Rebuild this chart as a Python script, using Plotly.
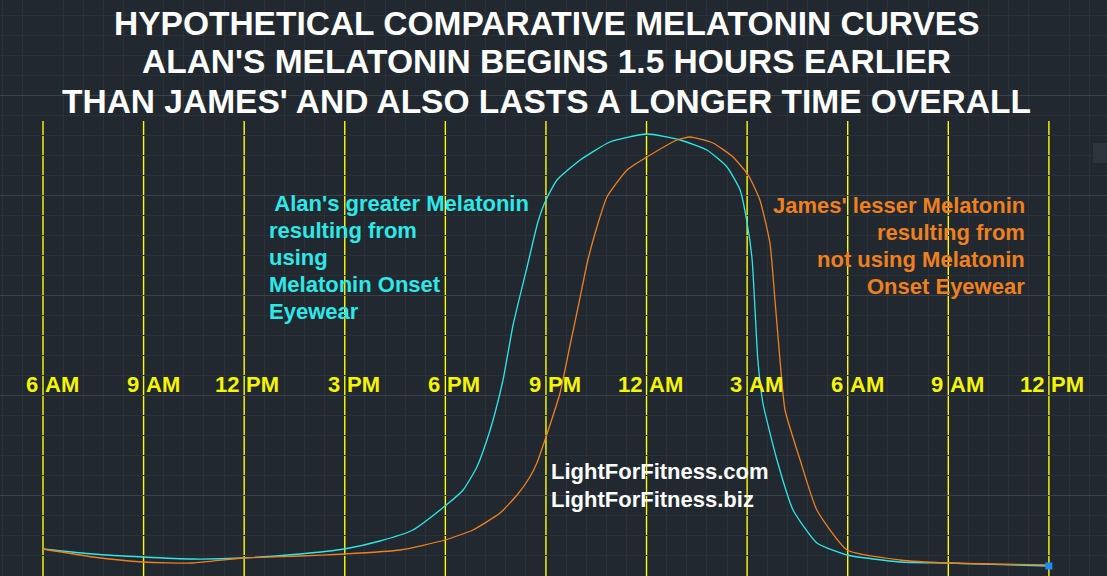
import plotly.graph_objects as go

# clock hours counted from midnight of day one (6 = 6 AM, 36 = noon next day)
tick_hours = [6, 9, 12, 15, 18, 21, 24, 27, 30, 33, 36]
tick_labels = ["6 AM", "9 AM", "12 PM", "3 PM", "6 PM", "9 PM",
               "12 AM", "3 AM", "6 AM", "9 AM", "12 PM"]

# Alan - relative melatonin level (uses the onset eyewear)
alan_hours = [6.0, 7.49, 8.98, 10.47, 11.96, 13.66, 14.98, 16.05, 17.03, 17.99,
              18.53, 18.94, 19.24, 19.48, 19.72, 20.02, 20.43, 20.76, 21.0, 21.33,
              22.02, 22.91, 24.01, 25.0, 25.8, 26.4, 26.79, 27.0, 27.15, 27.32,
              27.47, 27.89, 28.37, 29.08, 29.98, 31.56, 32.99, 36.0]
alan_level = [6.5, 5.25, 4.5, 4.0, 4.25, 5.25, 6.5, 8.5, 11.25, 17.25,
              21.25, 27.0, 33.75, 40.5, 48.75, 62.5, 76.75, 88.25, 93.75, 98.75,
              103.75, 108.25, 110.25, 108.75, 106.25, 102.0, 96.25, 88.0, 78.75, 53.75,
              43.0, 28.75, 16.25, 8.0, 5.0, 3.25, 3.0, 2.25]

# James - relative melatonin level (no eyewear)
james_hours = [6.0, 7.49, 8.98, 10.47, 11.96, 13.66, 14.98, 16.65, 17.99, 18.82,
               19.63, 20.14, 20.52, 20.73, 20.97, 21.42, 21.72, 21.99, 22.25, 22.52,
               22.82, 23.42, 24.01, 24.91, 25.3, 25.98, 26.58, 27.03, 27.38, 27.68,
               27.83, 27.98, 28.13, 28.58, 29.08, 29.98, 31.56, 32.99, 36.0]
james_level = [6.5, 4.5, 3.25, 3.0, 4.25, 4.75, 5.25, 6.25, 8.75, 11.25,
               15.5, 20.0, 24.5, 28.0, 33.75, 45.5, 57.5, 68.25, 78.75, 87.0,
               94.5, 101.25, 104.5, 108.75, 109.5, 108.0, 104.5, 100.0, 93.75, 83.0,
               68.75, 53.75, 41.25, 28.75, 16.25, 6.25, 3.75, 3.0, 2.5]

title_lines = ["HYPOTHETICAL COMPARATIVE MELATONIN CURVES",
               "ALAN'S MELATONIN BEGINS 1.5 HOURS EARLIER",
               "THAN JAMES' AND ALSO LASTS A LONGER TIME OVERALL"]
alan_note = [" Alan's greater Melatonin", "resulting from", "using",
             "Melatonin Onset", "Eyewear"]
james_note = ["James' lesser Melatonin", "resulting from",
              "not using Melatonin", "Onset Eyewear"]
site_lines = ["LightForFitness.com", "LightForFitness.biz"]

W, H = 1107, 576
BG = "#212830"
YELLOW = "#ffff00"
CYAN = "#2ee8e8"
ORANGE = "#ee8020"
FONT = "Liberation Sans, Arial, sans-serif"


def py(pix):
    # pixel row -> paper fraction
    return 1 - pix / H


fig = go.Figure()

# yellow hour lines (under the curves, over the grid)
for h in tick_hours:
    fig.add_shape(type="line", xref="x", yref="paper", x0=h, x1=h,
                  y0=0, y1=py(121), line=dict(color=YELLOW, width=1.4), layer="between")

fig.add_trace(go.Scatter(x=alan_hours, y=alan_level, mode="lines",
                         line=dict(color=CYAN, width=1.3, shape="spline", smoothing=0.5),
                         hoverinfo="skip"))
fig.add_trace(go.Scatter(x=james_hours, y=james_level, mode="lines",
                         line=dict(color=ORANGE, width=1.3, shape="spline", smoothing=0.5),
                         hoverinfo="skip"))
fig.add_trace(go.Scatter(x=[alan_hours[-1]], y=[alan_level[-1]], mode="markers",
                         marker=dict(symbol="square", size=7, color="#1a8cff"),
                         hoverinfo="skip"))

ann = []
# tick labels: the yellow line runs through the space
for h, lab in zip(tick_hours, tick_labels):
    num, ampm = lab.split(" ")
    ann.append(dict(x=h, y=py(384), xref="x", yref="paper", text=num, showarrow=False,
                    xanchor="right", yanchor="middle", xshift=-3,
                    font=dict(size=22, color="#f5f500", family=FONT, weight="bold")))
    ann.append(dict(x=h, y=py(384), xref="x", yref="paper", text=ampm, showarrow=False,
                    xanchor="left", yanchor="middle", xshift=0,
                    font=dict(size=22, color="#f5f500", family=FONT, weight="bold")))

for i, t in enumerate(title_lines):
    ann.append(dict(x=546 / W, y=py(23 + 39 * i), xref="paper", yref="paper", text=t,
                    showarrow=False, xanchor="center", yanchor="middle",
                    font=dict(size=33.5, color="white", family=FONT, weight="bold")))

for i, t in enumerate(alan_note):
    ann.append(dict(x=267 / W, y=py(203 + 27 * i), xref="paper", yref="paper", text=t,
                    showarrow=False, xanchor="left", yanchor="middle",
                    font=dict(size=22, color=CYAN, family=FONT, weight="bold")))

for i, t in enumerate(james_note):
    ann.append(dict(x=1027 / W, y=py(205 + 27 * i), xref="paper", yref="paper", text=t,
                    showarrow=False, xanchor="right", yanchor="middle",
                    font=dict(size=22, color=ORANGE, family=FONT, weight="bold")))

for i, t in enumerate(site_lines):
    ann.append(dict(x=549 / W, y=py(471 + 28 * i), xref="paper", yref="paper", text=t,
                    showarrow=False, xanchor="left", yanchor="middle",
                    font=dict(size=22, color="white", family=FONT, weight="bold")))

# little grey widget at the right edge
fig.add_shape(type="rect", xref="paper", yref="paper", x0=1093 / W, x1=1.0,
              y0=py(163), y1=py(143), fillcolor="#2d343d", line=dict(width=0))

fig.update_layout(
    width=W, height=H,
    margin=dict(l=0, r=0, t=0, b=0),
    paper_bgcolor=BG, plot_bgcolor=BG,
    showlegend=False,
    annotations=ann,
    xaxis=dict(range=[6 - 43 / 33.53, 6 + (W - 43) / 33.53],
               showticklabels=False, ticks="", zeroline=False,
               tick0=6, dtick=3, showgrid=False,
               minor=dict(tick0=6, dtick=0.6, showgrid=True, gridcolor="#2a3139")),
    yaxis=dict(range=[-0.25, 143.75],
               showticklabels=False, ticks="", zeroline=False,
               tick0=20, dtick=25, showgrid=True, gridcolor="#3a414b", gridwidth=1,
               minor=dict(tick0=20, dtick=5, showgrid=True, gridcolor="#2a3139")),
)

# no page margin so the figure sits flush in the window
fig.write_html("out.html", config={"displayModeBar": False},
               post_script="document.body.style.margin='0px';"
                           "document.body.style.background='#212830';")
